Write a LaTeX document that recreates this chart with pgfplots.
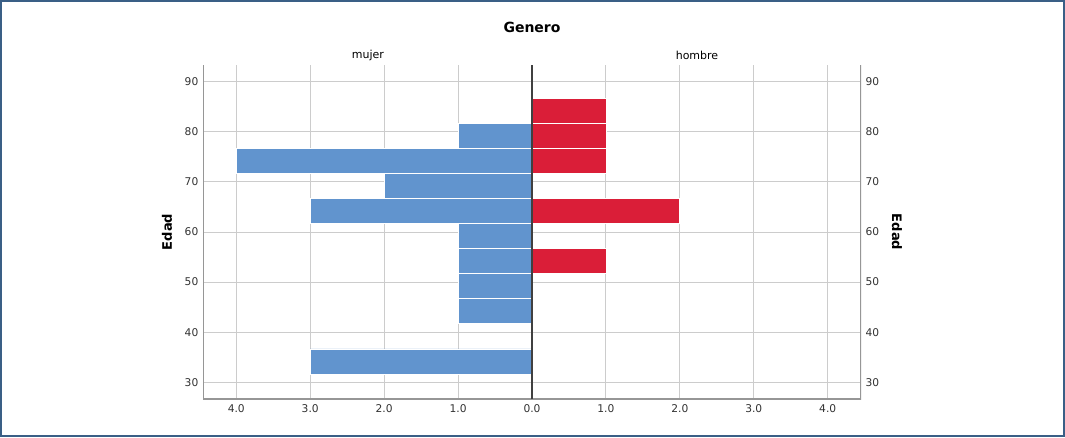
\documentclass[border=0pt]{standalone}
\usepackage{fontspec}
\setmainfont{DejaVu Sans}
\usepackage{pgfplots}
\pgfplotsset{compat=1.18}
\usepackage{pgfplotstable}
\definecolor{barblue}{RGB}{97,148,206}
\definecolor{barred}{RGB}{218,30,56}
\definecolor{gridgray}{RGB}{204,204,204}
\definecolor{axisgray}{RGB}{150,150,150}
\definecolor{framecol}{RGB}{58,95,134}
\definecolor{ticktext}{RGB}{50,50,50}
\pgfplotstableread{
y x
31.667 -3
36.667 0
41.667 -1
46.667 -1
51.667 -1
56.667 -1
61.667 -3
66.667 -2
71.667 -4
76.667 -1
81.667 0
}\mujer
\pgfplotstableread{
y x
51.667 1
56.667 0
61.667 2
66.667 0
71.667 1
76.667 1
81.667 1
86.667 0
}\hombre
\begin{document}
\begin{tikzpicture}[x=0.75pt,y=0.75pt]
\useasboundingbox (0,0) rectangle (1065,437);
\fill[white] (0,0) rectangle (1065,437);
\begin{axis}[
  at={(152.25pt,28.5pt)}, anchor=south west,
  scale only axis, width=493.5pt, height=250.5pt,
  xmin=-4.45, xmax=4.45, ymin=26.667, ymax=93.333,
  xtick={-4,-3,-2,-1,0,1,2,3,4},
  xticklabels={4.0,3.0,2.0,1.0,0.0,1.0,2.0,3.0,4.0},
  ytick={30,40,50,60,70,80,90},
  grid=major, grid style={gridgray, line width=0.75pt},
  axis line style={draw=none},
  major tick length=0pt,
  tick label style={font=\fontsize{8}{9}\selectfont, text=ticktext},
  xticklabel style={yshift=-1pt},
  /pgf/number format/assume math mode=true,
]
\addplot[xbar interval, fill=barblue, draw=white, line width=0.6pt] table[x=x,y=y]{\mujer};
\addplot[xbar interval, fill=barred, draw=white, line width=0.6pt] table[x=x,y=y]{\hombre};
\draw[axisgray, line width=1.1pt] (rel axis cs:0,1) -- (rel axis cs:0,0) -- (rel axis cs:1,0) -- (rel axis cs:1,1);
\draw[black!75, line width=1.1pt] (axis cs:0,26.667) -- (axis cs:0,93.333);
\end{axis}
\begin{axis}[
  at={(152.25pt,28.5pt)}, anchor=south west,
  scale only axis, width=493.5pt, height=250.5pt,
  xmin=-4.45, xmax=4.45, ymin=26.667, ymax=93.333,
  xtick=\empty,
  ytick={30,40,50,60,70,80,90},
  yticklabel pos=right,
  axis line style={draw=none},
  major tick length=0pt,
  tick label style={font=\fontsize{8}{9}\selectfont, text=ticktext},
  /pgf/number format/assume math mode=true,
]
\end{axis}
\node[font=\bfseries\fontsize{10.5}{12}\selectfont] at (532,410) {Genero};
\node[font=\fontsize{8.25}{10}\selectfont] at (368,382) {mujer};
\node[font=\fontsize{8.25}{10}\selectfont] at (697,382) {hombre};
\node[font=\bfseries\fontsize{9.8}{12}\selectfont, rotate=90] at (167,205) {Edad};
\node[font=\bfseries\fontsize{9.8}{12}\selectfont, rotate=-90] at (897,205) {Edad};
\draw[framecol, line width=1.5pt] (1,1) rectangle (1064,436);
\end{tikzpicture}
\end{document}
